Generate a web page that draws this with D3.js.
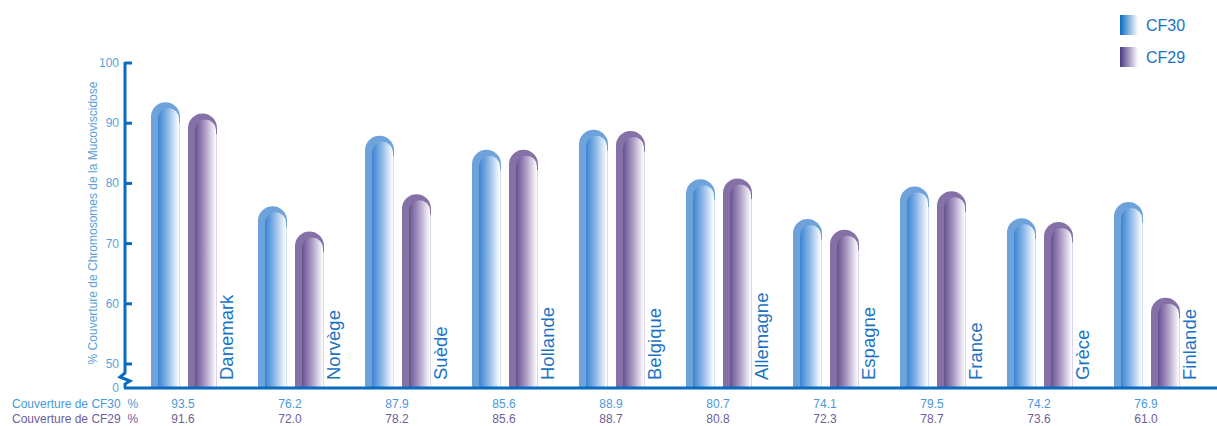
<!DOCTYPE html>
<html>
<head>
<meta charset="utf-8">
<script src="https://cdn.jsdelivr.net/npm/d3@7"></script>
<style>
  html, body { margin: 0; padding: 0; background: #ffffff; }
  svg { display: block; font-family: "Liberation Sans", Arial, sans-serif; }
</style>
</head>
<body>
<svg id="chart" width="1217" height="426"></svg>
<script>
const countries = ["Danemark", "Norvège", "Suède", "Hollande", "Belgique", "Allemagne", "Espagne", "France", "Grèce", "Finlande"];
const cf30 = [93.5, 76.2, 87.9, 85.6, 88.9, 80.7, 74.1, 79.5, 74.2, 76.9];
const cf29 = [91.6, 72.0, 78.2, 85.6, 88.7, 80.8, 72.3, 78.7, 73.6, 61.0];
const yTicks = [50, 60, 70, 80, 90, 100];
const seriesNames = ["CF30", "CF29"];
const rowLabels = ["Couverture de CF30  %", "Couverture de CF29  %"];
const yTitle = "% Couverture de Chromosomes de la Mucoviscidose";

const svg = d3.select("#chart");
const axisColor = "#0a6cc0";
const tickColor = "#5a9fdb";

const y = d3.scaleLinear().domain([50, 100]).range([364, 63]);
const baseY = 388;
const x = d3.scaleBand().domain(countries).range([140, 1210]).padding(0);
const barW = 29;

// gradients
const defs = svg.append("defs");
function grad(id, stops) {
  const g = defs.append("linearGradient").attr("id", id).attr("x1", "0").attr("x2", "1").attr("y1", "0").attr("y2", "0");
  stops.forEach(s => g.append("stop").attr("offset", s[0]).attr("stop-color", s[1]));
}
grad("inBlue", [["0%", "#3a84d1"], ["45%", "#8ab6e7"], ["100%", "#ffffff"]]);
grad("inPurple", [["0%", "#66518f"], ["45%", "#a797c3"], ["100%", "#ffffff"]]);
grad("legBlue", [["0%", "#0a6bc1"], ["100%", "#ffffff"]]);
grad("legPurple", [["0%", "#4a3880"], ["100%", "#ffffff"]]);

const styles = [
  { outer: "#6ea2db", inner: "url(#inBlue)", edge: "#cfe0f4" },
  { outer: "#8571a6", inner: "url(#inPurple)", edge: "#ddd6ea" }
];

function capPath(x0, w, top, bottom) {
  const r = w / 2;
  return `M${x0},${bottom} L${x0},${top + r} A${r},${r} 0 0 1 ${x0 + w},${top + r} L${x0 + w},${bottom} Z`;
}

// bars
const groups = svg.append("g").selectAll("g").data(countries).join("g");
[cf30, cf29].forEach((vals, si) => {
  groups.each(function (c, i) {
    const g = d3.select(this);
    const x0 = x(c) + 11 + si * 37;
    const top = y(vals[i]);
    const st = styles[si];
    g.append("path").attr("d", capPath(x0, barW, top, baseY)).attr("fill", st.outer);
    g.append("path").attr("d", capPath(x0 + 7, barW - 8, top + 6, baseY)).attr("fill", st.inner);
    g.append("line").attr("x1", x0 + barW - 0.5).attr("x2", x0 + barW - 0.5)
      .attr("y1", top + barW / 2 + 6).attr("y2", baseY).attr("stroke", st.edge).attr("stroke-width", 1);
  });
});

// country labels
groups.append("text")
  .attr("transform", c => `translate(${x(c) + 93},380) rotate(-90)`)
  .attr("fill", "#1a72c4")
  .attr("font-size", 18.5)
  .text(c => c);

// y axis
const axisG = svg.append("g");
axisG.append("path")
  .attr("d", `M125,62 L125,373 L120,377 L130,381 L125,384 L125,${baseY}`)
  .attr("fill", "none").attr("stroke", axisColor).attr("stroke-width", 3).attr("stroke-linejoin", "miter");
axisG.selectAll("line.tick").data(yTicks).join("line")
  .attr("x1", 125).attr("x2", 132).attr("y1", d => y(d)).attr("y2", d => y(d))
  .attr("stroke", axisColor).attr("stroke-width", 3);
axisG.selectAll("text.tick").data(yTicks.concat([0])).join("text")
  .attr("x", 119).attr("y", d => (d === 0 ? baseY : y(d)) + 4)
  .attr("text-anchor", "end").attr("font-size", 12).attr("fill", tickColor)
  .text(d => d);

// baseline
svg.append("line").attr("x1", 124).attr("x2", 1217).attr("y1", baseY).attr("y2", baseY)
  .attr("stroke", axisColor).attr("stroke-width", 3);

// y title
svg.append("text")
  .attr("transform", "translate(97,223) rotate(-90)")
  .attr("text-anchor", "middle").attr("font-size", 12).attr("fill", tickColor)
  .text(yTitle);

// table
const rowColors = ["#4a98d8", "#6e5e9a"];
const rowY = [408, 423];
[cf30, cf29].forEach((vals, si) => {
  svg.append("text").attr("x", 12).attr("y", rowY[si]).attr("font-size", 12)
    .attr("fill", rowColors[si]).attr("xml:space", "preserve").text(rowLabels[si]);
  svg.append("g").selectAll("text").data(countries).join("text")
    .attr("x", c => x(c) + 43).attr("y", rowY[si])
    .attr("text-anchor", "middle").attr("font-size", 12).attr("fill", rowColors[si])
    .text((c, i) => vals[i].toFixed(1));
});

// legend
const leg = svg.append("g").selectAll("g").data(seriesNames).join("g")
  .attr("transform", (d, i) => `translate(1120,${15 + i * 32})`);
leg.append("rect").attr("width", 18).attr("height", 20)
  .attr("fill", (d, i) => i === 0 ? "url(#legBlue)" : "url(#legPurple)");
leg.append("text").attr("x", 26).attr("y", 16).attr("font-size", 16)
  .attr("fill", "#1a72c4").text(d => d);
</script>
</body>
</html>
